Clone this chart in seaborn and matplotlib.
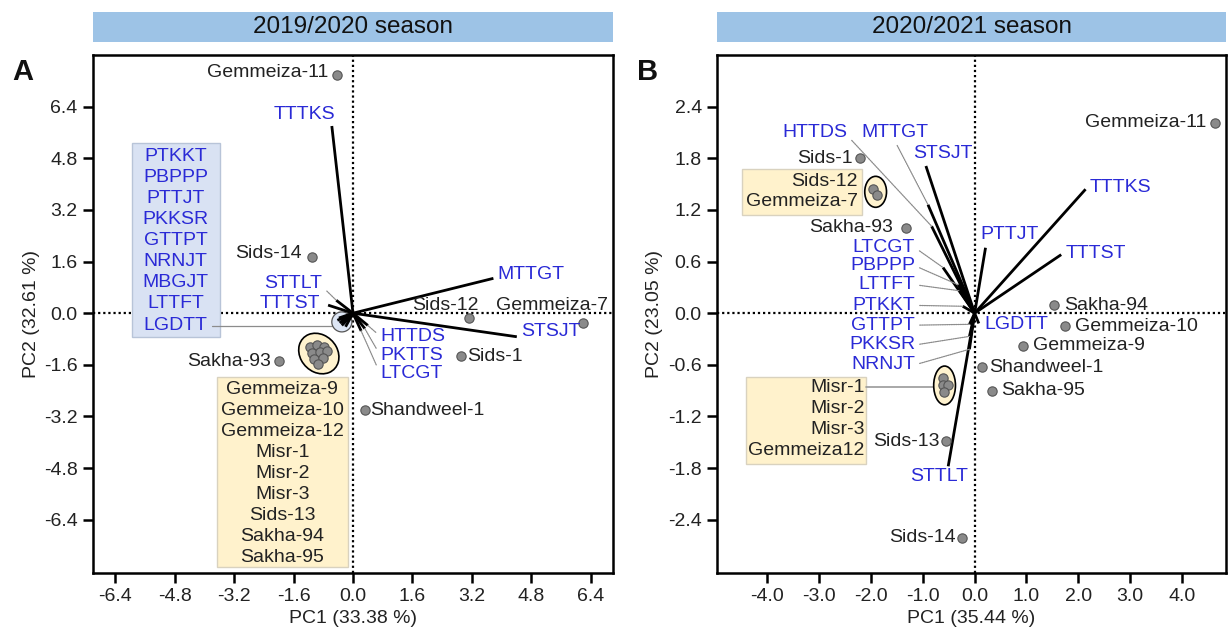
import matplotlib
matplotlib.use("Agg")
import numpy as np
import pandas as pd
import matplotlib.pyplot as plt
import seaborn as sns
from matplotlib.patches import Ellipse, Rectangle

sns.set_theme(style="white")
plt.rcParams["font.family"] = ["Liberation Sans", "DejaVu Sans"]
plt.rcParams["axes.unicode_minus"] = False

# ==========================
# Panel A data (2019/2020)
# ==========================
a_geno = ["Gemmeiza-11", "Sids-14", "Sids-12", "Gemmeiza-7", "Sakha-93", "Sids-1", "Shandweel-1"]
a_geno_pc1 = [-0.44, -1.09, 3.13, 6.19, -1.99, 2.91, 0.32]
a_geno_pc2 = [7.38, 1.73, -0.15, -0.30, -1.49, -1.33, -3.00]

a_group = ["Gemmeiza-9", "Gemmeiza-10", "Gemmeiza-12", "Misr-1", "Misr-2", "Misr-3",
           "Sids-13", "Sakha-94", "Sakha-95"]
a_group_pc1 = [-1.16, -0.96, -0.78, -1.11, -0.89, -0.70, -1.05, -0.80, -0.93]
a_group_pc2 = [-1.04, -0.99, -1.04, -1.23, -1.20, -1.17, -1.42, -1.40, -1.56]

a_trait = ["TTTKS", "MTTGT", "STSJT", "TTTST", "STTLT", "HTTDS", "PKTTS", "LTCGT",
           "PTKKT", "PBPPP", "PTTJT", "PKKSR", "GTTPT", "NRNJT", "MBGJT", "LTTFT", "LGDTT"]
a_trait_pc1 = [-0.57, 3.78, 4.41, -0.67, -0.45, 0.40, 0.32, 0.22,
               -0.38, -0.32, -0.26, -0.42, -0.30, -0.20, -0.36, -0.26, -0.30]
a_trait_pc2 = [5.80, 1.08, -0.73, 0.25, 0.40, -0.38, -0.48, -0.55,
               -0.15, -0.25, -0.32, -0.22, -0.38, -0.42, -0.30, -0.20, -0.34]
a_box_traits = ["PTKKT", "PBPPP", "PTTJT", "PKKSR", "GTTPT", "NRNJT", "MBGJT", "LTTFT", "LGDTT"]

a_xticks = [-6.4, -4.8, -3.2, -1.6, 0.0, 1.6, 3.2, 4.8, 6.4]
a_yticks = [-6.4, -4.8, -3.2, -1.6, 0.0, 1.6, 3.2, 4.8, 6.4]

# ==========================
# Panel B data (2020/2021)
# ==========================
b_geno = ["Gemmeiza-11", "Sids-1", "Sakha-93", "Sakha-94", "Gemmeiza-10", "Gemmeiza-9",
          "Shandweel-1", "Sakha-95", "Sids-13", "Sids-14"]
b_geno_pc1 = [4.64, -2.22, -1.33, 1.53, 1.75, 0.93, 0.14, 0.33, -0.55, -0.24]
b_geno_pc2 = [2.21, 1.80, 0.99, 0.09, -0.15, -0.38, -0.63, -0.90, -1.49, -2.61]

b_group1 = ["Sids-12", "Gemmeiza-7"]
b_group1_pc1 = [-1.97, -1.89]
b_group1_pc2 = [1.44, 1.37]

b_group2 = ["Misr-1", "Misr-2", "Misr-3", "Gemmeiza12"]
b_group2_pc1 = [-0.62, -0.62, -0.51, -0.60]
b_group2_pc2 = [-0.75, -0.84, -0.84, -0.92]

b_trait = ["TTTKS", "TTTST", "PTTJT", "STSJT", "STTLT", "MTTGT", "HTTDS", "LTCGT",
           "PBPPP", "LTTFT", "PTKKT", "GTTPT", "PKKSR", "NRNJT", "LGDTT"]
b_trait_pc1 = [2.14, 1.67, 0.21, -0.94, -0.51, -0.90, -0.83, -0.61,
               -0.32, -0.29, -0.23, -0.10, -0.10, -0.10, 0.08]
b_trait_pc2 = [1.44, 0.68, 0.76, 1.71, -1.78, 1.26, 1.01, 0.53,
               0.33, 0.26, 0.08, -0.13, -0.27, -0.42, -0.12]

b_xticks = [-4.0, -3.0, -2.0, -1.0, 0.0, 1.0, 2.0, 3.0, 4.0]
b_yticks = [-2.4, -1.8, -1.2, -0.6, 0.0, 0.6, 1.2, 1.8, 2.4]

# ==========================
# Styling / layout
# ==========================
BLUE = "#2a2ad6"
DARK = "#222222"
PT_FACE = "#8a8a8a"
PT_EDGE = "#555555"
LEAD = "#8c8c8c"
FS = 14

# genotype label offsets in points: (dx, dy, ha)
a_geno_lab = {
    "Gemmeiza-11": (-6, 1.5, "right"), "Sids-14": (-8, 3, "right"),
    "Sids-12": (-17, 9, "center"), "Gemmeiza-7": (-22, 12.5, "center"),
    "Sakha-93": (-6, 0, "right"), "Sids-1": (4, 0, "left"), "Shandweel-1": (4, 0, "left"),
}
b_geno_lab = {
    "Gemmeiza-11": (-6, 0, "right"), "Sids-1": (-5, 0, "right"), "Sakha-93": (-9, 0, "right"),
    "Sakha-94": (7, 0, "left"), "Gemmeiza-10": (7, 0, "left"), "Gemmeiza-9": (7, 0, "left"),
    "Shandweel-1": (5, 0, "left"), "Sakha-95": (6.5, 0, "left"),
    "Sids-13": (-5, 0, "right"), "Sids-14": (-5, 0, "right"),
}
# trait labels next to tips (offset points) and labels with leaders (data coords)
a_trait_tip = {"TTTKS": (-20, 8, "center"), "MTTGT": (3, 3, "left"),
               "STSJT": (3, 4, "left"), "TTTST": (-6, 1, "right")}
a_trait_lead = {"STTLT": (-0.82, 0.92, "right", (1, 0.3)),
                "HTTDS": (0.73, -0.71, "left", (0, 0.5)),
                "PKTTS": (0.73, -1.30, "left", (0, 0.5)),
                "LTCGT": (0.73, -1.87, "left", (0, 0.5))}
b_trait_tip = {"TTTKS": (3, 1, "left"), "TTTST": (3.5, 0.5, "left"),
               "PTTJT": (17, 9.5, "center"), "STSJT": (12.5, 9, "center"),
               "STTLT": (-6.5, -7.5, "center"), "LGDTT": (4, -1, "left")}
b_trait_lead = {"HTTDS": (-3.08, 2.10, "center", (1, 0.3)),
                "MTTGT": (-1.54, 2.10, "center", (0.5, 0.0)),
                "LTCGT": (-1.15, 0.76, "right", (1, 0.5)),
                "PBPPP": (-1.15, 0.55, "right", (1, 0.5)),
                "LTTFT": (-1.15, 0.33, "right", (1, 0.5)),
                "PTKKT": (-1.15, 0.09, "right", (1, 0.5)),
                "GTTPT": (-1.15, -0.14, "right", (1, 0.5)),
                "PKKSR": (-1.15, -0.37, "right", (1, 0.5)),
                "NRNJT": (-1.15, -0.60, "right", (1, 0.5))}


def style_axes(ax, xlim, ylim, xticks, yticks, xlabel, ylabel, ylab_x):
    ax.set_xlim(xlim)
    ax.set_ylim(ylim)
    ax.set_xticks(xticks)
    ax.set_xticklabels([f"{t:.1f}" for t in xticks])
    ax.set_yticks(yticks)
    ax.set_yticklabels([f"{t:.1f}" for t in yticks])
    ax.tick_params(axis="both", which="both", direction="out", length=7, width=1.8,
                   labelsize=FS, color="black", labelcolor=DARK, pad=4,
                   bottom=True, left=True, top=False, right=False)
    for sp in ax.spines.values():
        sp.set_color("black")
        sp.set_linewidth(1.8)
    ax.set_xlabel(xlabel, fontsize=FS, color=DARK)
    ax.set_ylabel(ylabel, fontsize=FS, color=DARK)
    ax.xaxis.set_label_coords(0.5, -0.071)
    ax.yaxis.set_label_coords(ylab_x, 0.5)
    ax.axhline(0, color="black", lw=1.6, ls=(0, (1, 1.3)), zorder=1)
    ax.axvline(0, color="black", lw=1.6, ls=(0, (1, 1.3)), zorder=1)
    ax.grid(False)


def draw_points(ax, pc1, pc2):
    df = pd.DataFrame({"PC1": pc1, "PC2": pc2})
    sns.scatterplot(data=df, x="PC1", y="PC2", ax=ax, s=45, color=PT_FACE,
                    edgecolor=PT_EDGE, linewidth=0.8, zorder=6, legend=False)


def label_points(ax, names, pc1, pc2, layout):
    for n, x, y in zip(names, pc1, pc2):
        dx, dy, ha = layout[n]
        ax.annotate(n, (x, y), xytext=(dx, dy), textcoords="offset points",
                    ha=ha, va="center", fontsize=FS, color=DARK, zorder=7,
                    annotation_clip=False)


def draw_vectors(ax, names, pc1, pc2, tip_lab, lead_lab):
    for n, x, y in zip(names, pc1, pc2):
        ax.plot([0, x], [0, y], color="black", lw=2.0, solid_capstyle="butt", zorder=4)
        if n in tip_lab:
            dx, dy, ha = tip_lab[n]
            ax.annotate(n, (x, y), xytext=(dx, dy), textcoords="offset points",
                        ha=ha, va="center", fontsize=FS, color=BLUE, zorder=7)
        elif n in lead_lab:
            lx, ly, ha, rp = lead_lab[n]
            ax.annotate(n, (x, y), xytext=(lx, ly), textcoords="data",
                        ha=ha, va="center", fontsize=FS, color=BLUE, zorder=7,
                        arrowprops=dict(arrowstyle="-", color=LEAD, lw=0.9, ls=(0, (1, 0.8)),
                                        relpos=rp, shrinkA=1, shrinkB=0))


def text_box(ax, x0, y0, x1, y1, face, edge, names, tx, ty, step, ha, color):
    ax.add_patch(Rectangle((x0, y0), x1 - x0, y1 - y0, facecolor=face, edgecolor=edge,
                           lw=1.0, zorder=2))
    for i, n in enumerate(names):
        ax.text(tx, ty - i * step, n, ha=ha, va="center", fontsize=FS, color=color, zorder=3)


# ==========================
# Figure
# ==========================
fig = plt.figure(figsize=(12.28, 6.33), dpi=100)
axA = fig.add_axes([0.0757, 0.0948, 0.4235, 0.8183])
axB = fig.add_axes([0.5839, 0.0948, 0.4145, 0.8183])

for left, width, title in [(0.0757, 0.4235, "2019/2020 season"), (0.5839, 0.4145, "2020/2021 season")]:
    fig.add_artist(Rectangle((left, 0.9336), width, 0.0474, transform=fig.transFigure,
                             facecolor="#9dc3e6", edgecolor="none"))
    fig.text(left + width / 2, 0.9573, title, ha="center", va="center", fontsize=17.5, color="#111111")

fig.text(0.0183, 0.886, "A", fontsize=21, fontweight="bold", ha="center", va="center", color="#111111")
fig.text(0.527, 0.886, "B", fontsize=21, fontweight="bold", ha="center", va="center", color="#111111")

# ---------- Panel A ----------
style_axes(axA, (-7.0, 7.0), (-8.05, 8.0), a_xticks, a_yticks,
           "PC1 (33.38 %)", "PC2 (32.61 %)", -0.102)

text_box(axA, -5.96, -0.75, -3.57, 5.26, "#d9e2f3", "#b8c4d8", a_box_traits,
         -4.77, 4.87, 0.655, "center", BLUE)
text_box(axA, -3.66, -7.87, -0.14, -1.99, "#fff2cc", "#d9d2bf", a_group,
         -1.90, -2.37, 0.649, "center", DARK)
axA.plot([-3.8, -0.57], [-0.39, -0.39], color=LEAD, lw=0.9, zorder=2)
axA.add_patch(Ellipse((-0.30, -0.27), 0.54, 0.62, facecolor="#dde6f5", edgecolor="#555555",
                      lw=0.9, zorder=3))
axA.add_patch(Ellipse((-0.92, -1.25), 1.03, 1.30, angle=25, facecolor="#fff3cf",
                      edgecolor="black", lw=1.2, zorder=3))

draw_vectors(axA, a_trait, a_trait_pc1, a_trait_pc2, a_trait_tip, a_trait_lead)
draw_points(axA, a_geno_pc1, a_geno_pc2)
draw_points(axA, a_group_pc1, a_group_pc2)
label_points(axA, a_geno, a_geno_pc1, a_geno_pc2, a_geno_lab)

# ---------- Panel B ----------
style_axes(axB, (-4.97, 4.85), (-3.02, 3.0), b_xticks, b_yticks,
           "PC1 (35.44 %)", "PC2 (23.05 %)", -0.106)

text_box(axB, -4.48, 1.14, -2.18, 1.68, "#fff2cc", "#d9d2bf", b_group1,
         -2.25, 1.53, 0.23, "right", DARK)
text_box(axB, -4.41, -1.75, -2.09, -0.74, "#fff2cc", "#d9d2bf", b_group2,
         -2.12, -0.87, 0.243, "right", DARK)
axB.plot([-2.09, -0.81], [-0.86, -0.86], color="#9a9a9a", lw=1.2, zorder=2)
axB.add_patch(Ellipse((-1.91, 1.41), 0.42, 0.36, facecolor="#fff3cf",
                      edgecolor="black", lw=1.2, zorder=3))
axB.add_patch(Ellipse((-0.58, -0.84), 0.42, 0.45, facecolor="#fff3cf",
                      edgecolor="black", lw=1.2, zorder=3))

draw_vectors(axB, b_trait, b_trait_pc1, b_trait_pc2, b_trait_tip, b_trait_lead)
draw_points(axB, b_geno_pc1, b_geno_pc2)
draw_points(axB, b_group1_pc1, b_group1_pc2)
draw_points(axB, b_group2_pc1, b_group2_pc2)
label_points(axB, b_geno, b_geno_pc1, b_geno_pc2, b_geno_lab)

fig.savefig("out.png", dpi=100)
